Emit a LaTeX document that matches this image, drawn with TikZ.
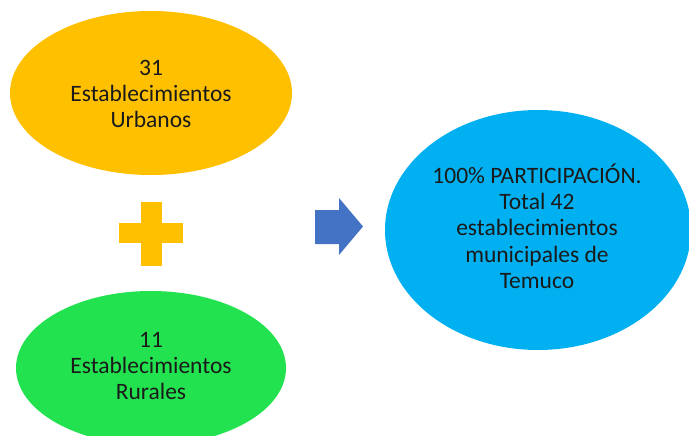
\documentclass[tikz,border=0pt]{standalone}
\usepackage{fontspec}
\setmainfont{Carlito}
\usetikzlibrary{shapes.geometric}
\definecolor{orangeF}{HTML}{FFC000}
\definecolor{greenF}{HTML}{23E24F}
\definecolor{blueF}{HTML}{00B0F0}
\definecolor{arrowF}{HTML}{4472C4}
\definecolor{txt}{HTML}{1A1A1A}
\tikzset{
  blob/.style={ellipse, draw=none, inner sep=0pt},
  lbl/.style={align=center, text=txt, font=\fontsize{23.5}{26.3}\selectfont}
}
\begin{document}
\begin{tikzpicture}[x=1pt,y=-1pt]
\useasboundingbox (0,0) rectangle (689,436);
\clip (0,0) rectangle (689,436);
\fill[white] (0,0) rectangle (689,436);
% shapes
\node[blob, fill=orangeF, minimum width=282, minimum height=164] (urb) at (151,93) {};
\node[blob, fill=greenF, minimum width=270, minimum height=154] (rur) at (151,368) {};
\node[blob, fill=blueF, minimum width=306, minimum height=240] (tot) at (538,230) {};
% plus sign
\fill[orangeF] (140.5,202) rectangle (161.5,266);
\fill[orangeF] (119,223) rectangle (183,243);
\coordinate (plus) at (151,233);
% arrow
\fill[arrowF] (315,210) -- (339,210) -- (339,198) -- (363,226.5) -- (339,255) -- (339,244) -- (315,244) -- cycle;
\coordinate (arr) at (339,227);
% texts
\node[lbl] (t1) at (151,94) {31\\Establecimientos\\Urbanos};
\node[lbl] (t2) at (151,366) {11\\Establecimientos\\Rurales};
\node[lbl] (t3) at (537,226) {100\% PARTICIPACIÓN.\\Total 42\\establecimientos\\municipales de\\Temuco};
\end{tikzpicture}
\end{document}
